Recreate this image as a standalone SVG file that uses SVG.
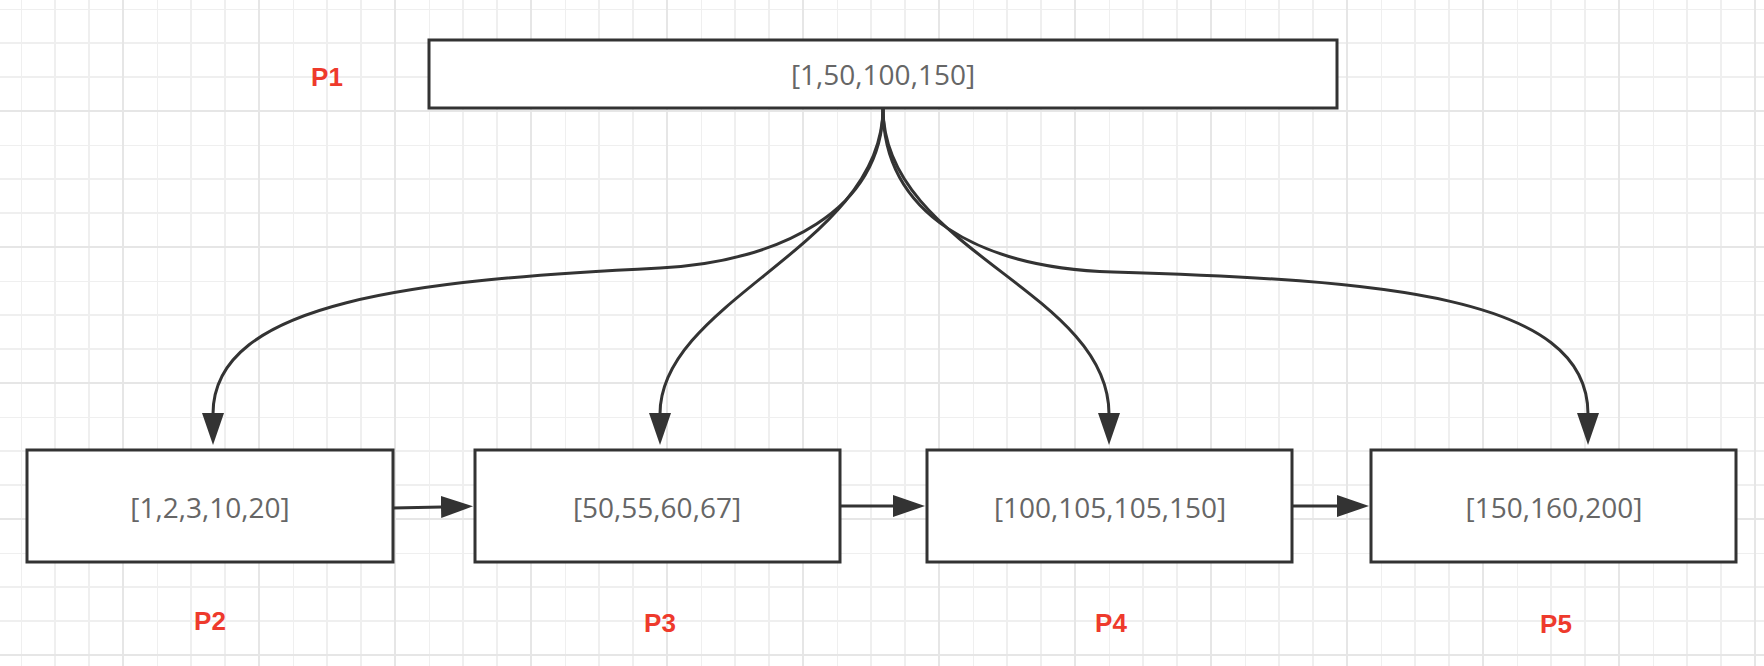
<svg xmlns="http://www.w3.org/2000/svg" width="1764" height="666" viewBox="0 0 1764 666">
  <style>
    .box { fill: #ffffff; stroke: #333333; stroke-width: 3; }
    .val { font-family: "Open Sans", "Liberation Sans", sans-serif; font-size: 28px; fill: #666666; text-anchor: middle; }
    .tag { font-family: "Liberation Sans", Arial, sans-serif; font-size: 26px; font-weight: bold; fill: #ee3a2c; text-anchor: middle; }
    .edge { fill: none; stroke: #333333; stroke-width: 3; }
  </style>
  <defs>
    <pattern id="grid" x="21" y="9" width="136" height="136" patternUnits="userSpaceOnUse">
      <path d="M0,0 V136 M34,0 V136 M68,0 V136 M0,0 H136 M0,34 H136 M0,68 H136" stroke="#efefef" stroke-width="2" fill="none"/>
      <path d="M102,0 V136 M0,102 H136" stroke="#e6e6e6" stroke-width="2" fill="none"/>
    </pattern>
    <marker id="arrow" markerUnits="userSpaceOnUse" markerWidth="34" markerHeight="24" refX="1" refY="11" orient="auto">
      <path d="M0,0 L32,11 L0,22 z" fill="#333333"/>
    </marker>
  </defs>

  <!-- background grid -->
  <rect width="1764" height="666" fill="#ffffff"/>
  <rect width="1764" height="666" fill="url(#grid)"/>

  <!-- connectors -->
  <g id="connectors">
    <path class="edge" marker-end="url(#arrow)" d="M883,108 C883,210 780,262 660,268 C420,280 213,300 213,414"/>
    <path class="edge" marker-end="url(#arrow)" d="M883,108 C883,245 660,300 660,414"/>
    <path class="edge" marker-end="url(#arrow)" d="M883,108 C883,250 1109,290 1109,414"/>
    <path class="edge" marker-end="url(#arrow)" d="M883,108 C883,215 980,268 1113,272 C1379,280 1588,295 1588,414"/>
    <path class="edge" marker-end="url(#arrow)" d="M393,508 L442,507"/>
    <path class="edge" marker-end="url(#arrow)" d="M840,506 L894,506"/>
    <path class="edge" marker-end="url(#arrow)" d="M1293,506 L1338,506"/>
  </g>

  <!-- root page -->
  <g id="p1">
    <rect class="box" x="429" y="40" width="908" height="68"/>
    <text class="val" x="883" y="85">[1,50,100,150]</text>
    <text class="tag" x="327" y="86">P1</text>
  </g>

  <!-- leaf pages -->
  <g id="p2">
    <rect class="box" x="27" y="450" width="366" height="112"/>
    <text class="val" x="210" y="518">[1,2,3,10,20]</text>
    <text class="tag" x="210" y="630">P2</text>
  </g>
  <g id="p3">
    <rect class="box" x="475" y="450" width="365" height="112"/>
    <text class="val" x="657" y="518">[50,55,60,67]</text>
    <text class="tag" x="660" y="632">P3</text>
  </g>
  <g id="p4">
    <rect class="box" x="927" y="450" width="365" height="112"/>
    <text class="val" x="1110" y="518">[100,105,105,150]</text>
    <text class="tag" x="1111" y="632">P4</text>
  </g>
  <g id="p5">
    <rect class="box" x="1371" y="450" width="365" height="112"/>
    <text class="val" x="1554" y="518">[150,160,200]</text>
    <text class="tag" x="1556" y="633">P5</text>
  </g>
</svg>
